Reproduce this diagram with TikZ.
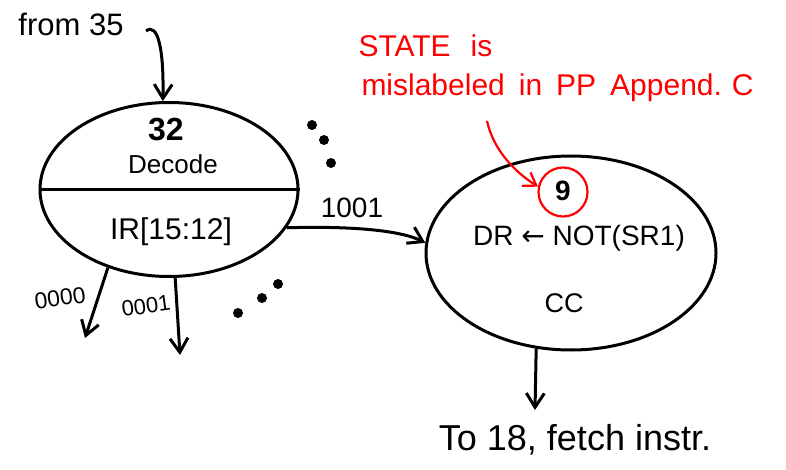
\documentclass[tikz,border=0pt]{standalone}
\usepackage{fontspec}
\setmainfont{Liberation Sans}
\newfontfamily\arrowfont{DejaVu Sans}
\usetikzlibrary{shapes.geometric,arrows.meta}
\begin{document}
\begin{tikzpicture}[x=1pt,y=-1pt,line width=3pt,
  arr/.style={-{Straight Barb[length=14pt,width=18pt]}},
  state/.style={draw,ellipse,inner sep=0pt},
  lbl/.style={inner sep=0pt,font=\fontsize{#1}{#1}\selectfont},
  note/.style={red,inner sep=0pt,anchor=base west,font=\fontsize{30}{32}\selectfont},
  dot/.style={fill=black,line width=0pt}]
\useasboundingbox (0,0) rectangle (786,470);

% state 32: decode
\node[state,minimum width=258pt,minimum height=174pt] (s32) at (169,189.5) {};
\draw (s32.west) -- (s32.east);
\node[lbl=32,font=\bfseries\fontsize{32}{32}\selectfont] (n32) at (166,130) {32};
\node[lbl=26] (dec) at (173,164) {Decode};
\node[lbl=30] (ir) at (171,232) {IR[15:12]};

% incoming arc
\node[lbl=31] (f35) at (71,24) {from 35};
\coordinate (c35) at (146,31);
\draw[arr] (c35) .. controls (158,22) and (164,50) .. (s32.94);

% state 9
\node[state,minimum width=290pt,minimum height=194pt] (s9) at (571,253) {};
\node[lbl=28,font=\bfseries\fontsize{28}{28}\selectfont] (n9) at (563,191) {9};
\node[draw=red,circle,line width=2.2pt,minimum size=49pt,inner sep=0pt] (ring) at (563,192) {};
\node[lbl=28] (op) at (579,238) {DR {\arrowfont ←} NOT(SR1)};
\node[lbl=27] (cc) at (564,303) {CC};

% 1001 arc to state 9
\draw[arr] (s32.-18) .. controls (350,226) and (400,230) .. (s9.176);
\node[lbl=28] (l1001) at (352,208) {1001};

% other outgoing arcs
\coordinate (e0000) at (85,338);
\coordinate (e0001) at (180,355);
\draw[arr] (s32.-128) -- (e0000);
\draw[arr] (s32.-86) -- (e0001);
\node[lbl=23,rotate=8] (l0000) at (60,298) {0000};
\node[lbl=22,rotate=8] (l0001) at (146,306) {0001};

% ellipsis marks
\fill[dot] (312,125) circle (5pt) (324,140) circle (5pt) (331,163) circle (5pt);
\fill[dot] (238,313) circle (5pt) (262,298) circle (5pt) (278,284) circle (5pt);

% exit arc
\node[lbl=36] (to18) at (575,440) {To 18, fetch instr.};
\coordinate (e18) at (535,410);
\draw[arr] (s9.-110) -- (e18);

% annotation
\node[note] (ann1) at (357,57) {STATE\hspace{20pt}is};
\node[note] (ann2) at (360,96) {mislabeled\hspace{14pt}in\hspace{14pt}PP\hspace{14pt}Append.\hspace{10pt}C};
\coordinate (rs) at (487,121);
\draw[red,line width=2.2pt,-{Straight Barb[length=12pt,width=16pt]}] (rs) .. controls (493,148) and (512,170) .. (ring.168);
\end{tikzpicture}
\end{document}
